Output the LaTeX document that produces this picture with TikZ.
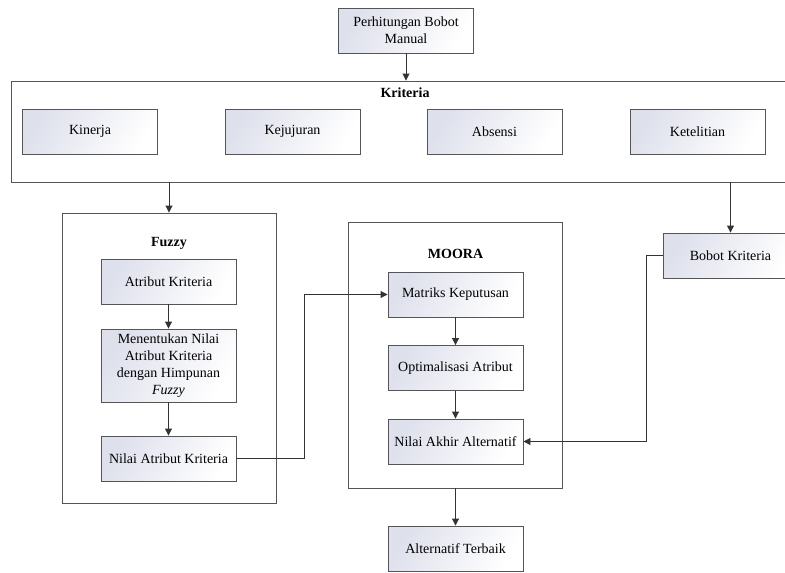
\documentclass[tikz,border=0pt]{standalone}
\usepackage{fontspec}
\setmainfont{Liberation Serif}
\usetikzlibrary{arrows.meta,positioning,calc}
\definecolor{boxl}{RGB}{222,224,236}
\definecolor{edge}{RGB}{85,85,85}
\tikzset{
  procbox/.style={draw=edge, line width=0.9pt, left color=boxl, right color=white,
    shading angle=60, minimum width=135pt, minimum height=45pt, inner sep=2pt,
    align=center, font=\fontsize{14}{17}\selectfont},
  groupbox/.style={draw=edge, line width=0.9pt, fill=white, inner sep=0pt},
  grouplabel/.style={font=\fontsize{14}{17}\selectfont\bfseries},
  arr/.style={draw=black!80, line width=0.9pt, -{Triangle[length=7pt,width=7pt]}},
  conn/.style={draw=black!80, line width=0.9pt},
}
\begin{document}
\begin{tikzpicture}[x=1pt,y=-1pt]
\clip (0,0) rectangle (785,573);
\fill[white] (0,0) rectangle (785,573);
% Top box
\node[procbox] (manual) at (406,30.5) {Perhitungan Bobot\\Manual};
% Kriteria container
\node[groupbox, minimum width=784pt, minimum height=101pt] (kriteria) at (403,131.5) {};
\node[grouplabel] (kritlabel) at (405,93) {Kriteria};
\node[procbox] (kinerja) at (90,131.5) {Kinerja};
\node[procbox] (kejujuran) at (292.5,131.5) {Kejujuran};
\node[procbox] (absensi) at (494.5,131.5) {Absensi};
\node[procbox] (ketelitian) at (697.5,131.5) {Ketelitian};
% Fuzzy container
\node[groupbox, minimum width=214pt, minimum height=290pt] (fuzzy) at (169,358) {};
\node[grouplabel] (fuzzylabel) at (169,243) {Fuzzy};
\node[procbox] (atribut) at (168.5,281.5) {Atribut Kriteria};
\node[procbox, minimum height=73pt] (menentukan) at (168.5,365.5) {Menentukan Nilai\\Atribut Kriteria\\dengan Himpunan\\\textit{Fuzzy}};
\node[procbox] (nilaiatribut) at (168.5,458.5) {Nilai Atribut Kriteria};
% MOORA container
\node[groupbox, minimum width=214pt, minimum height=266pt] (moora) at (455,355) {};
\node[grouplabel] (mooralabel) at (455.5,254) {MOORA};
\node[procbox] (matriks) at (455.5,294.5) {Matriks Keputusan};
\node[procbox] (optimal) at (455.5,368) {Optimalisasi Atribut};
\node[procbox] (nilaiakhir) at (455.5,441.5) {Nilai Akhir Alternatif};
\node[procbox] (terbaik) at (455.5,548.5) {Alternatif Terbaik};
% Bobot kriteria
\node[procbox] (bobot) at (730.5,255.5) {Bobot Kriteria};
% connectors
\draw[arr] (manual.south) -- (manual.south |- kriteria.north);
\draw[arr] (fuzzy.north |- kriteria.south) -- (fuzzy.north);
\draw[arr] (bobot.north |- kriteria.south) -- (bobot.north);
\draw[arr] (atribut.south) -- (menentukan.north);
\draw[arr] (menentukan.south) -- (nilaiatribut.north);
\draw[arr] (matriks.south) -- (optimal.north);
\draw[arr] (optimal.south) -- (nilaiakhir.north);
\draw[arr] (nilaiatribut.east) -- ++(68,0) |- (matriks.west);
\draw[arr] (bobot.west) -- ++(-16,0) |- (nilaiakhir.east);
\draw[arr] (moora.south -| terbaik.north) -- (terbaik.north);
\end{tikzpicture}
\end{document}
